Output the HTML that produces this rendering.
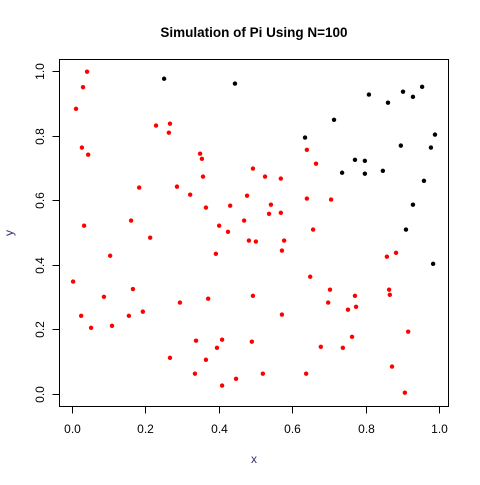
<!DOCTYPE html>
<html><head><meta charset="utf-8"><style>
html,body{margin:0;padding:0;background:#fff;}
svg text{font-family:"Liberation Sans",Arial,sans-serif;}
</style></head><body>
<svg id="chart" width="480" height="480" viewBox="0 0 480 480" xmlns="http://www.w3.org/2000/svg">
<rect width="480" height="480" fill="#fff"/>
<text x="254" y="37" text-anchor="middle" font-size="13.5" font-weight="bold">Simulation of Pi Using N=100</text>
<rect x="59.5" y="59.5" width="389" height="347" fill="none" stroke="#000" stroke-width="1"/>
<text x="254" y="463" text-anchor="middle" font-size="12" fill="#3a2a6a">x</text>
<text x="13" y="233" text-anchor="middle" font-size="12" fill="#3a2a6a" transform="rotate(-90 13 233)">y</text>
<g id="axes"></g>
<g id="points"></g>
</svg>
<script>
const xs=[.041,.030,.011,.229,.267,.264,.027,.044,.349,.354,.493,.357,.183,.286,.322,.477,.365,.431,.161,.469,.033,.401,.425,.251,.444,.809,.902,.929,.954,.861,.714,.635,.989,.896,.978,.771,.798,.736,.798,.847,.959,.929,.910,.640,.665,.526,.569,.640,.706,.542,.537,.569,.657,.213,.482,.104,.392,.003,.166,.087,.294,.371,.493,.025,.155,.193,.052,.109,.338,.409,.395,.490,.267,.365,.335,.447,.409,.501,.578,.572,.858,.883,.984,.649,.703,.864,.866,.771,.698,.774,.752,.572,.916,.763,.678,.738,.872,.520,.638,.907];
const ys=[.998,.950,.883,.831,.837,.809,.763,.741,.744,.728,.698,.673,.639,.642,.617,.614,.577,.583,.537,.537,.521,.521,.502,.976,.961,.927,.936,.920,.951,.902,.849,.794,.803,.769,.763,.725,.722,.685,.682,.691,.660,.586,.509,.756,.713,.673,.667,.605,.602,.586,.558,.561,.509,.484,.475,.428,.434,.348,.325,.301,.283,.295,.304,.242,.242,.255,.205,.211,.165,.168,.143,.162,.112,.106,.063,.047,.026,.472,.475,.444,.425,.437,.403,.363,.323,.323,.307,.304,.283,.270,.261,.246,.193,.177,.146,.143,.085,.063,.063,.004];
const xTicks=[0,0.2,0.4,0.6,0.8,1.0];
const xTickLabels=["0.0","0.2","0.4","0.6","0.8","1.0"];
const yTicks=[0,0.2,0.4,0.6,0.8,1.0];
const yTickLabels=["0.0","0.2","0.4","0.6","0.8","1.0"];
const NS="http://www.w3.org/2000/svg";
function sx(v){return 72+v*367;}
function sy(v){return 394-v*323;}
const axes=document.getElementById('axes');
const pts=document.getElementById('points');
function mk(tag,attrs,parent){const e=document.createElementNS(NS,tag);for(const k in attrs)e.setAttribute(k,attrs[k]);parent.appendChild(e);return e;}
const xl=mk('line',{x1:sx(0),x2:sx(1),y1:406.5,y2:406.5,stroke:'#000'},axes);


const yl=mk('line',{x1:59.5,x2:59.5,y1:sy(0),y2:sy(1),stroke:'#000'},axes);


xTicks.forEach((t,i)=>{
  const x=Math.round(sx(t))+0.5;
  const l=mk('line',{x1:x,x2:x,y1:406.5,y2:413.5,stroke:'#000'},axes);
  
  
  const tx=mk('text',{x:x,y:433,'text-anchor':'middle','font-size':'12'},axes);
  tx.textContent=xTickLabels[i];
  
  
});
yTicks.forEach((t,i)=>{
  const y=Math.round(sy(t))+0.5;
  const l=mk('line',{x1:52.5,x2:59.5,y1:y,y2:y,stroke:'#000'},axes);
  
  
  const tx=mk('text',{x:44,y:y,'text-anchor':'middle','font-size':'12',transform:'rotate(-90 44 '+y+')'},axes);
  tx.textContent=yTickLabels[i];
  
  
});
xs.forEach((v,i)=>{
  const inside=v*v+ys[i]*ys[i]<=1;
  const c=mk('circle',{cx:sx(v),cy:sy(ys[i]),r:2.2,fill:inside?'#ff0000':'#000'},pts);
  
  
});
</script>
</body></html>
